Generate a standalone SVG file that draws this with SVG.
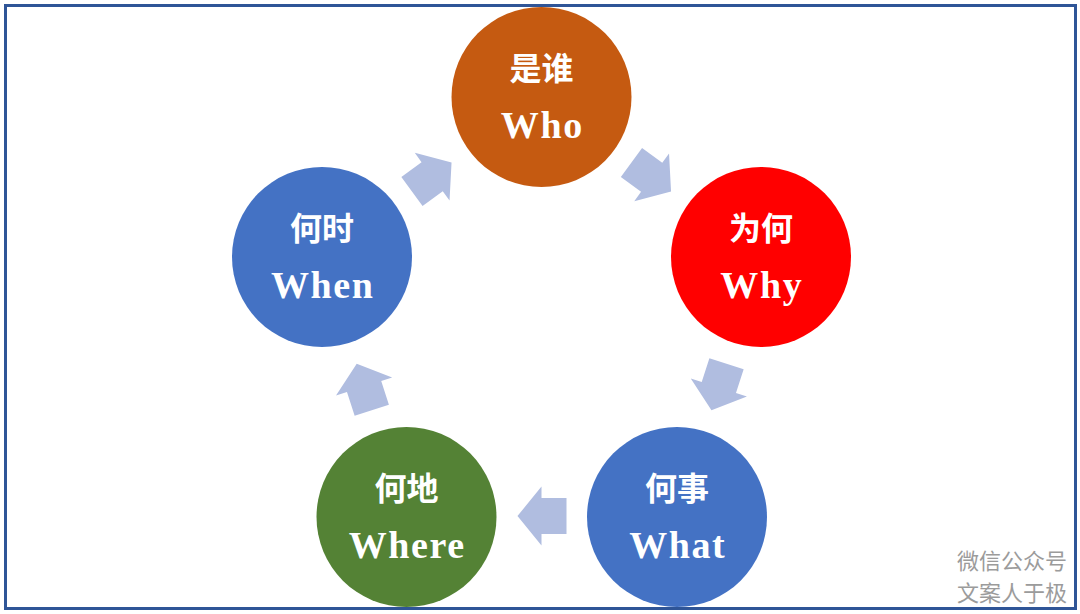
<svg xmlns="http://www.w3.org/2000/svg" width="1080" height="614" viewBox="0 0 1080 614">
  <style>
    .cn { font-family: "Noto Sans CJK SC", "Noto Sans CJK JP", sans-serif; font-weight: 700; font-size: 32px; fill: #ffffff; text-anchor: middle; }
    .en { font-family: "Liberation Serif", "Times New Roman", serif; font-weight: 700; font-size: 38px; letter-spacing: 1.6px; fill: #ffffff; text-anchor: middle; }
    .arrow { fill: #B0BDE0; }
    .wm { font-family: "Noto Sans CJK SC", sans-serif; font-size: 22px; fill: #9B9B9B; text-anchor: end; }
  </style>
  <defs>
    <polygon id="blockArrow" points="-24.5,-18 0.5,-18 0.5,-29.5 24.5,0 0.5,29.5 0.5,18 -24.5,18"/>
  </defs>
  <rect x="0" y="0" width="1080" height="614" fill="#ffffff"/>
  <rect x="5.5" y="5.5" width="1070" height="603" fill="none" stroke="#2F5597" stroke-width="3"/>

  <g id="connectors" class="arrow">
    <use href="#blockArrow" transform="translate(651.25,177) rotate(36.1)"/>
    <use href="#blockArrow" transform="translate(719,387) rotate(107.9)"/>
    <use href="#blockArrow" transform="translate(542,516) rotate(180)"/>
    <use href="#blockArrow" transform="translate(364.25,387) rotate(252.1)"/>
    <use href="#blockArrow" transform="translate(431.75,177) rotate(-36.1)"/>
  </g>

  <g id="who">
    <circle cx="541.5" cy="97" r="90" fill="#C55A11"/>
    <text class="cn" x="541.5" y="80">是谁</text>
    <text class="en" x="542.3" y="138">Who</text>
  </g>
  <g id="why">
    <circle cx="761" cy="257" r="90" fill="#FF0000"/>
    <text class="cn" x="761" y="240">为何</text>
    <text class="en" x="761.8" y="298">Why</text>
  </g>
  <g id="what">
    <circle cx="677" cy="517" r="90" fill="#4472C4"/>
    <text class="cn" x="677" y="500">何事</text>
    <text class="en" x="677.8" y="558">What</text>
  </g>
  <g id="where">
    <circle cx="406.5" cy="517" r="90" fill="#548235"/>
    <text class="cn" x="406.5" y="500">何地</text>
    <text class="en" x="407.3" y="558">Where</text>
  </g>
  <g id="when">
    <circle cx="322" cy="257" r="90" fill="#4472C4"/>
    <text class="cn" x="322" y="240">何时</text>
    <text class="en" x="322.8" y="298">When</text>
  </g>

  <g id="watermark">
    <text class="wm" x="1067" y="569">微信公众号</text>
    <text class="wm" x="1067" y="601">文案人于极</text>
  </g>
</svg>
